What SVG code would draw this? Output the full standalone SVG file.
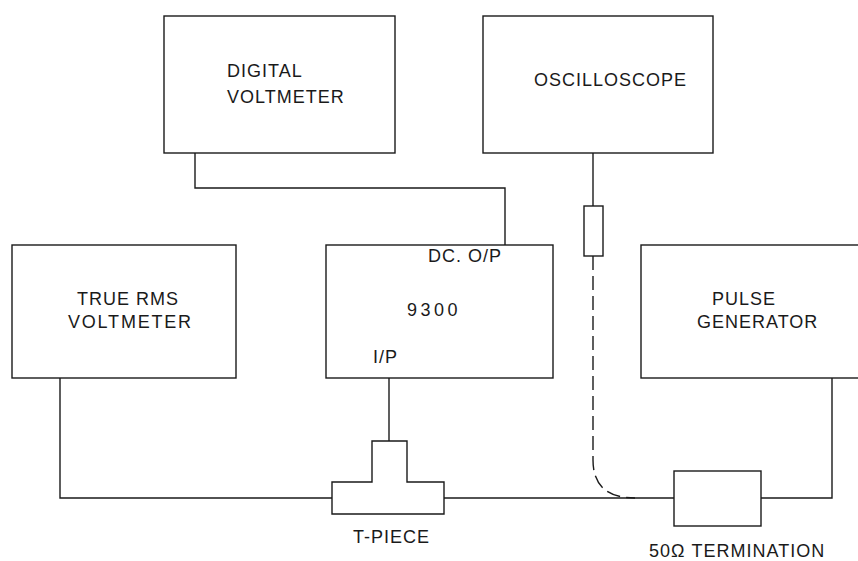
<svg xmlns="http://www.w3.org/2000/svg" width="858" height="561" viewBox="0 0 858 561">
<style>
.box{fill:none;stroke:#1a1a1a;stroke-width:1.4}
.ln{fill:none;stroke:#1a1a1a;stroke-width:1.4}
.dash{fill:none;stroke:#1a1a1a;stroke-width:1.4;stroke-dasharray:14 6}
text{font-family:"Liberation Sans",Arial,sans-serif;font-size:18px;fill:#1a1a1a;letter-spacing:1px}
</style>
<rect width="858" height="561" fill="#fff"/>
<g id="connectors">
<polyline class="ln" points="195,153 195,188 505,188 505,245"/>
<line class="ln" x1="593" y1="153" x2="593" y2="206"/>
<path class="dash" d="M593,256 L593,460 Q593,498 635,498"/>
<polyline class="ln" points="60,378 60,498 332,498"/>
<line class="ln" x1="389" y1="378" x2="389" y2="441"/>
<line class="ln" x1="444" y1="498" x2="674" y2="498"/>
<polyline class="ln" points="761,498 832,498 832,378"/>
</g>
<g id="digital-voltmeter">
<rect class="box" x="164" y="16" width="231" height="137"/>
<text x="227" y="77">DIGITAL</text>
<text x="227" y="103">VOLTMETER</text>
</g>
<g id="oscilloscope">
<rect class="box" x="483" y="16" width="230" height="137"/>
<text x="534" y="86">OSCILLOSCOPE</text>
</g>
<g id="probe">
<rect class="box" x="584" y="206" width="19" height="50"/>
</g>
<g id="true-rms-voltmeter">
<rect class="box" x="12" y="245" width="224" height="133"/>
<text x="77" y="305">TRUE RMS</text>
<text x="68" y="328" style="letter-spacing:1.8px">VOLTMETER</text>
</g>
<g id="unit-9300">
<rect class="box" x="326" y="245" width="227" height="133"/>
<text x="428" y="262">DC. O/P</text>
<text x="407" y="316" style="letter-spacing:3.5px">9300</text>
<text x="373" y="363">I/P</text>
</g>
<g id="pulse-generator">
<rect class="box" x="641" y="245" width="240" height="133"/>
<text x="712" y="305">PULSE</text>
<text x="697" y="328">GENERATOR</text>
</g>
<g id="t-piece">
<path class="box" d="M372,441 L407,441 L407,482 L444,482 L444,514 L332,514 L332,482 L372,482 Z"/>
<text x="353" y="543">T-PIECE</text>
</g>
<g id="termination">
<rect class="box" x="674" y="471" width="87" height="55"/>
<text x="649" y="557">50Ω TERMINATION</text>
</g>
</svg>
